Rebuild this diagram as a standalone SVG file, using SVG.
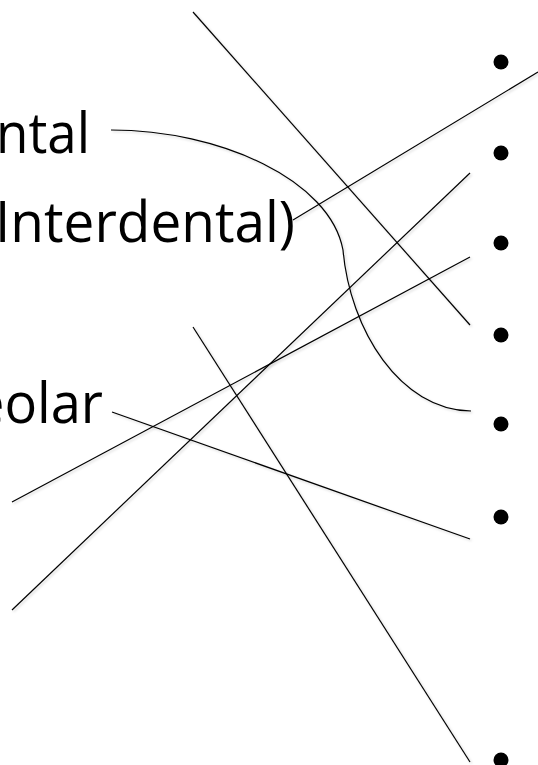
<svg xmlns="http://www.w3.org/2000/svg" width="538" height="765" viewBox="0 0 538 765">
  <style>
    .lbl { font-family: "Open Sans", "Liberation Sans", sans-serif; font-size: 57px; fill: #000; }
    .dot { fill: #000; }
    .conn { fill: none; stroke: #000; stroke-width: 1.2; filter: url(#sh); }
  </style>
  <defs>
    <filter id="sh" x="-10%" y="-10%" width="120%" height="120%">
      <feDropShadow dx="1.5" dy="1.5" stdDeviation="1" flood-color="#000" flood-opacity="0.18"/>
    </filter>
  </defs>
  <rect width="538" height="765" fill="#fff"/>
  <g id="label-ntal"><text class="lbl" x="-4" y="153" textLength="94" lengthAdjust="spacingAndGlyphs">ntal</text></g>
  <g id="label-interdental"><text class="lbl" x="-5" y="242" textLength="300" lengthAdjust="spacingAndGlyphs">Interdental)</text></g>
  <g id="label-eolar"><text class="lbl" x="-26" y="423" textLength="129" lengthAdjust="spacingAndGlyphs">eolar</text></g>
  <g id="bullet-1"><circle class="dot" cx="501" cy="62" r="7.5"/></g>
  <g id="bullet-2"><circle class="dot" cx="501" cy="153" r="7.5"/></g>
  <g id="bullet-3"><circle class="dot" cx="501" cy="243" r="7.5"/></g>
  <g id="bullet-4"><circle class="dot" cx="501" cy="335" r="7.5"/></g>
  <g id="bullet-5"><circle class="dot" cx="501" cy="424" r="7.5"/></g>
  <g id="bullet-6"><circle class="dot" cx="501" cy="517" r="7.5"/></g>
  <g id="bullet-7"><circle class="dot" cx="501" cy="760" r="7.5"/></g>
  <g id="connectors">
    <line class="conn" x1="193" y1="12" x2="470" y2="325"/>
    <line class="conn" x1="470" y1="173" x2="12" y2="610"/>
    <line class="conn" x1="470" y1="257" x2="12" y2="502"/>
    <line class="conn" x1="538" y1="72" x2="293" y2="220"/>
    <path class="conn" d="M111,130 C220,130 330,180 343,250 C350,330 400,410 471,411"/>
    <line class="conn" x1="112" y1="412" x2="470" y2="539"/>
    <line class="conn" x1="193" y1="327" x2="470" y2="762"/>
  </g>
</svg>
